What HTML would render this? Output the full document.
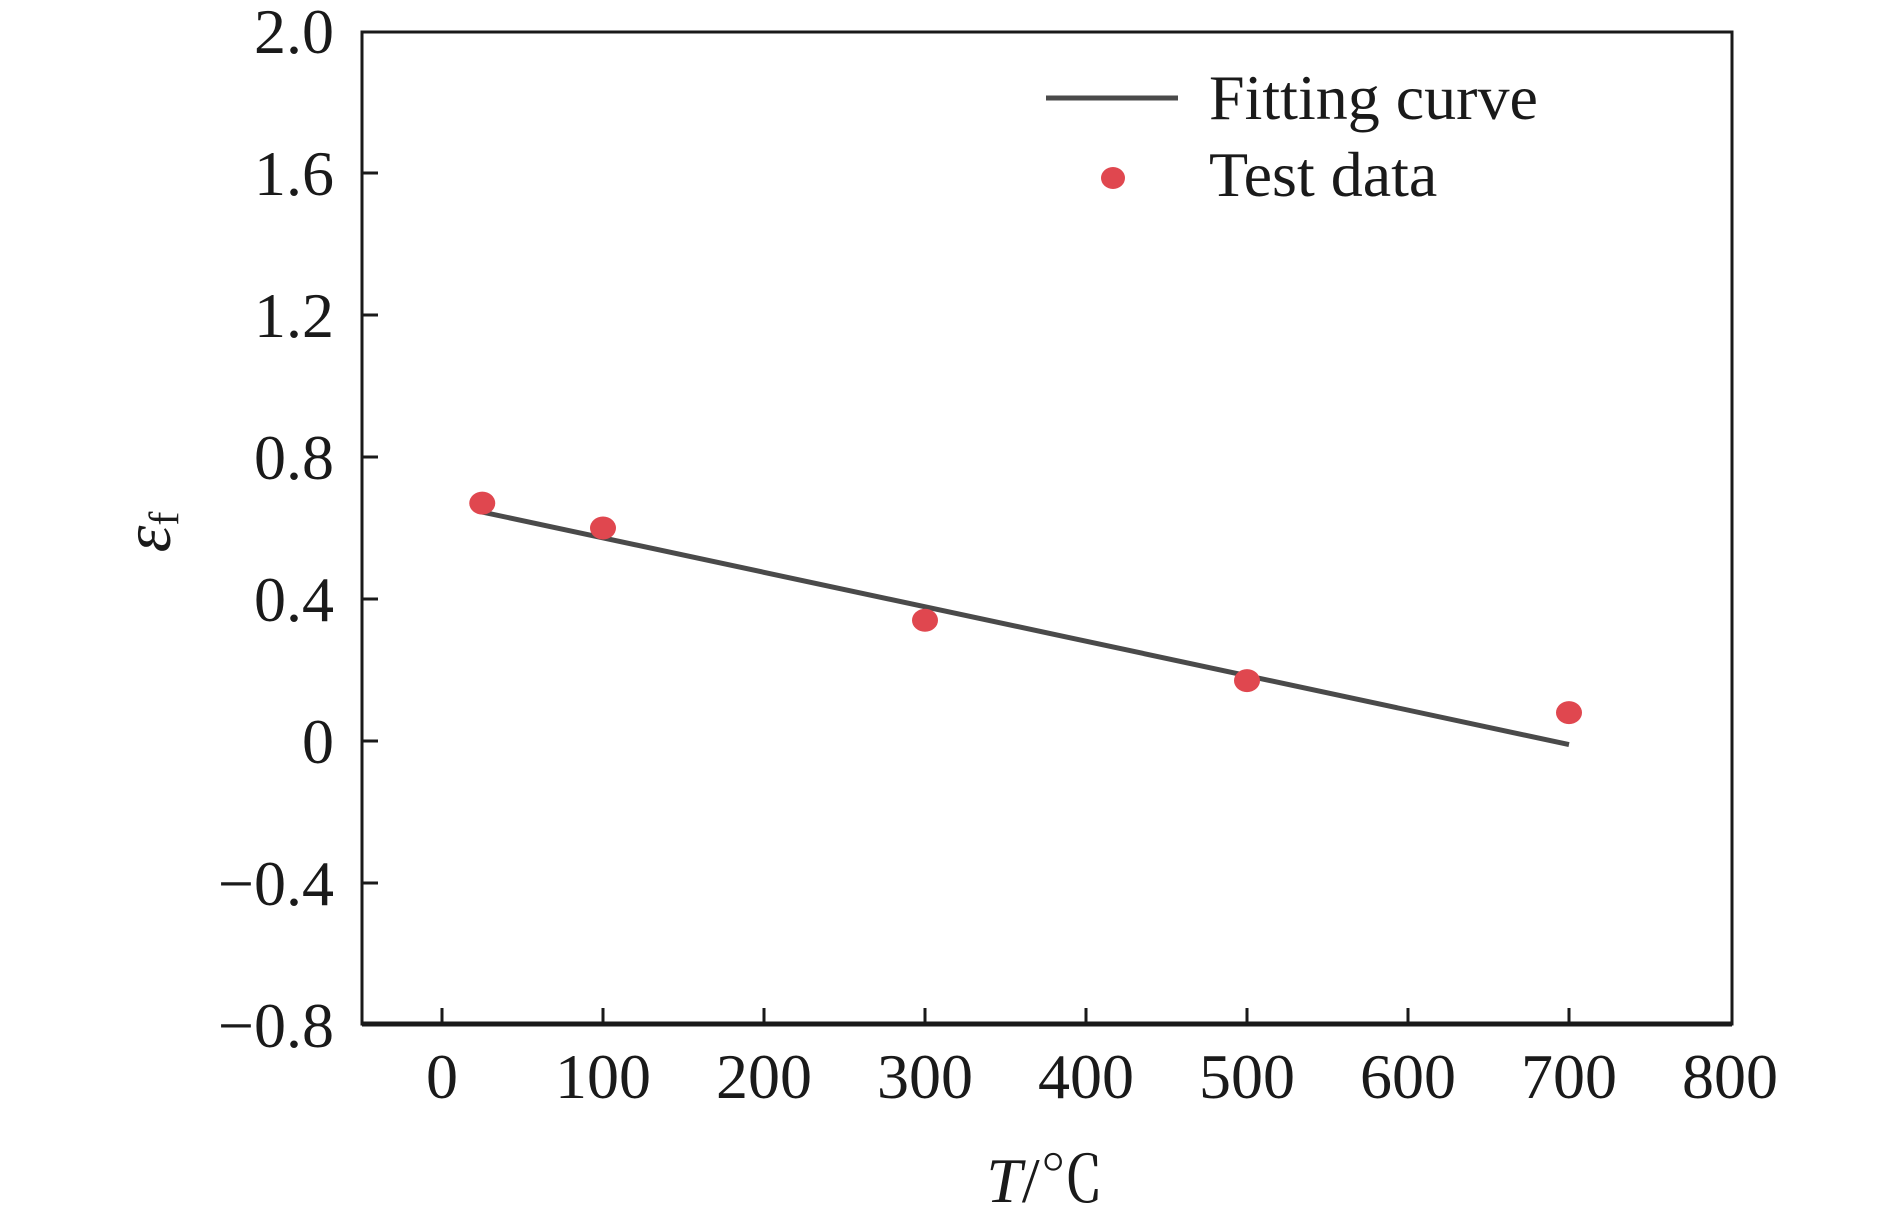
<!DOCTYPE html>
<html><head><meta charset="utf-8"><style>
body{margin:0;background:#fff}
svg text{font-family:"Liberation Serif","Noto Serif CJK SC",serif;fill:#1a1a1a}
</style></head><body>
<svg id="chart" width="1889" height="1223" viewBox="0 0 1889 1223" xmlns="http://www.w3.org/2000/svg">
<g id="ticks"></g>
<g id="marks"></g>
<rect x="362" y="32" width="1370" height="992" fill="none" stroke="#1a1a1a" stroke-width="3"/>
<line x1="362" y1="1024" x2="1732" y2="1024" stroke="#1a1a1a" stroke-width="5"/>
<text transform="translate(170,532) rotate(-90)" text-anchor="middle" font-size="68" font-style="italic">ε<tspan font-size="42" font-style="normal" dy="8">f</tspan></text>
<text x="1045" y="1202" text-anchor="middle" font-size="64"><tspan font-style="italic">T</tspan>/℃</text>
<g>
<line x1="1046" y1="98" x2="1178" y2="98" stroke="#4a4a4a" stroke-width="5"/>
<text x="1209" y="119" font-size="64">Fitting curve</text>
<ellipse cx="1113" cy="178" rx="12" ry="11" fill="#e0474f"/>
<text x="1209" y="196" font-size="64">Test data</text>
</g>
</svg>
<script>
const xTicks=[0,100,200,300,400,500,600,700,800];
const yTicks=[2.0,1.6,1.2,0.8,0.4,0,-0.4,-0.8];
const yTickLabels=["2.0","1.6","1.2","0.8","0.4","0","\u22120.4","\u22120.8"];
const testT=[25,100,300,500,700];
const testE=[0.67,0.60,0.34,0.17,0.08];
const fitT=[25,700];
const fitE=[0.645,-0.01];
const NS="http://www.w3.org/2000/svg";
function xs(v){return 442+v*1.61;}
function ys(v){return 741-v*355;}
const tg=document.getElementById('ticks'),mg=document.getElementById('marks');
function mk(tag,attrs,parent){const e=document.createElementNS(NS,tag);for(const k in attrs)e.setAttribute(k,attrs[k]);parent.appendChild(e);return e;}
xTicks.forEach(function(t){
  if(t<800){const l=mk('line',{x1:xs(t),x2:xs(t),y1:1024,y2:1008,stroke:'#1a1a1a','stroke-width':3},tg);
  
  }
  const tx=mk('text',{x:xs(t),y:1098,'text-anchor':'middle','font-size':64},tg);tx.textContent=t;
  
  
});
yTicks.forEach(function(t,i){
  if(i>0){const l=mk('line',{x1:362,x2:378,y1:ys(t),y2:ys(t),stroke:'#1a1a1a','stroke-width':3},tg);
  
  }
  const tx=mk('text',{x:334,y:ys(t)+22,'text-anchor':'end','font-size':64},tg);tx.textContent=yTickLabels[i];
  
  
});
const fl=mk('line',{x1:xs(fitT[0]),y1:ys(fitE[0]),x2:xs(fitT[1]),y2:ys(fitE[1]),stroke:'#4a4a4a','stroke-width':5},mg);


testT.forEach(function(t,i){
  const c=mk('ellipse',{cx:xs(t),cy:ys(testE[i]),rx:13,ry:11.5,fill:'#e0474f'},mg);
  
  
});
</script>
</body></html>
